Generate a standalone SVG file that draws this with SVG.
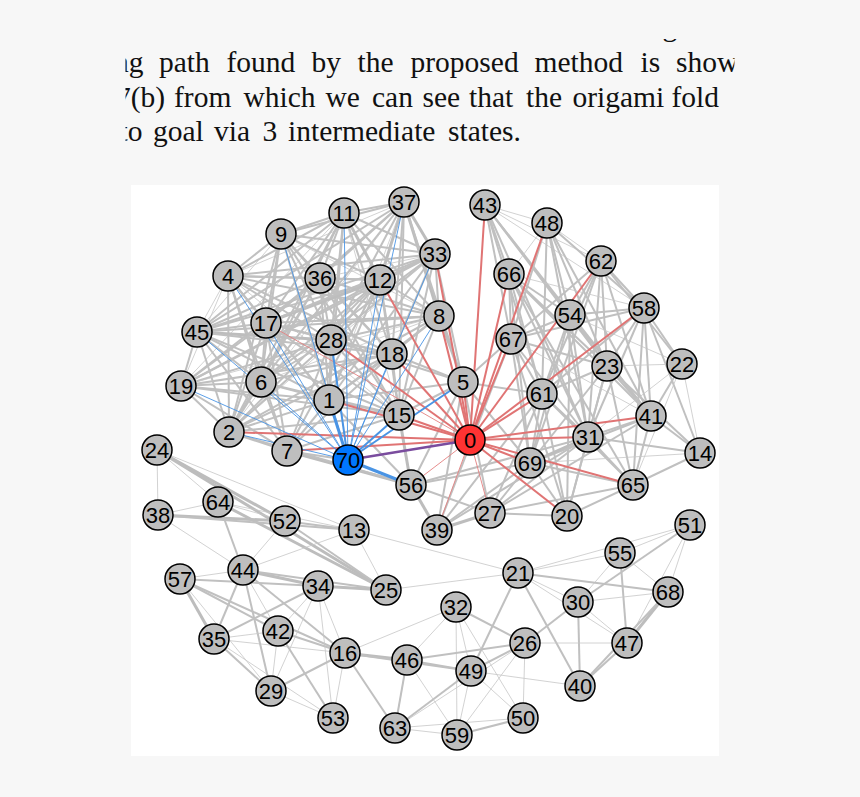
<svg xmlns="http://www.w3.org/2000/svg" width="860" height="797" viewBox="0 0 860 797">
<style>
.para{font-family:"Liberation Serif","Times New Roman",serif;font-size:29.5px;fill:#111}
.e1{stroke:#c6c6c6;stroke-width:0.8}
.e2{stroke:#c0c0c0;stroke-width:2}
.e3{stroke:#bdbdbd;stroke-width:3}
.r1{stroke:#e38080;stroke-width:0.9}
.r2{stroke:#e07474;stroke-width:2}
.b1{stroke:#4a94e4;stroke-width:0.9}
.b2{stroke:#4a94e4;stroke-width:2}
.b3{stroke:#4a94e4;stroke-width:3}
.pp{stroke:#7a4c9e;stroke-width:2.5}
.nd circle{fill:#bebebe;stroke:#000;stroke-width:1.5}
.nd text{font-family:"Liberation Sans",Arial,sans-serif;font-size:22px;fill:#000;text-anchor:middle}
</style>
<defs>
<clipPath id="txtclip"><rect x="125.5" y="0" width="609" height="160"/></clipPath>
<clipPath id="topclip"><rect x="600" y="39" width="100" height="10"/></clipPath>
</defs>
<rect x="0" y="0" width="860" height="797" fill="#f7f7f7"/>
<g id="paragraph" class="para">
<text x="662.5" y="35.5" clip-path="url(#topclip)">g</text>
<g clip-path="url(#txtclip)">
<text y="72"><tspan x="114">ng</tspan><tspan x="159">path</tspan><tspan x="226.5">found</tspan><tspan x="311.5">by</tspan><tspan x="357.5">the</tspan><tspan x="410.5">proposed</tspan><tspan x="534.5">method</tspan><tspan x="640.5">is</tspan><tspan x="676">shown</tspan></text>
<text y="106.5"><tspan x="116">7(b)</tspan><tspan x="174">from</tspan><tspan x="243.5">which</tspan><tspan x="325.5">we</tspan><tspan x="372">can</tspan><tspan x="422.5">see</tspan><tspan x="469">that</tspan><tspan x="526">the</tspan><tspan x="572.5">origami</tspan><tspan x="671.5">fold</tspan></text>
<text y="141"><tspan x="119.5">to</tspan><tspan x="153">goal</tspan><tspan x="214">via</tspan><tspan x="262.5">3</tspan><tspan x="288">intermediate</tspan><tspan x="448">states.</tspan></text>
</g>
</g>
<rect x="131" y="185" width="588" height="571" fill="#ffffff"/>
<g id="connectors">
<line x1="404" y1="202" x2="344" y2="213" class="e2"/>
<line x1="404" y1="202" x2="281" y2="234" class="e2"/>
<line x1="404" y1="202" x2="228" y2="276" class="e1"/>
<line x1="404" y1="202" x2="197" y2="332" class="e2"/>
<line x1="404" y1="202" x2="320" y2="278" class="e2"/>
<line x1="404" y1="202" x2="380" y2="280" class="e3"/>
<line x1="404" y1="202" x2="435" y2="254" class="e3"/>
<line x1="404" y1="202" x2="266" y2="323" class="e2"/>
<line x1="404" y1="202" x2="331" y2="340" class="e2"/>
<line x1="404" y1="202" x2="392" y2="354" class="e2"/>
<line x1="404" y1="202" x2="439" y2="316" class="e3"/>
<line x1="404" y1="202" x2="329" y2="400" class="e1"/>
<line x1="404" y1="202" x2="261" y2="382" class="e2"/>
<line x1="404" y1="202" x2="399" y2="415" class="e2"/>
<line x1="404" y1="202" x2="463" y2="382" class="e2"/>
<line x1="404" y1="202" x2="229" y2="432" class="e1"/>
<line x1="344" y1="213" x2="281" y2="234" class="e2"/>
<line x1="344" y1="213" x2="228" y2="276" class="e2"/>
<line x1="344" y1="213" x2="197" y2="332" class="e2"/>
<line x1="344" y1="213" x2="320" y2="278" class="e2"/>
<line x1="344" y1="213" x2="380" y2="280" class="e3"/>
<line x1="344" y1="213" x2="435" y2="254" class="e2"/>
<line x1="344" y1="213" x2="266" y2="323" class="e2"/>
<line x1="344" y1="213" x2="331" y2="340" class="e2"/>
<line x1="344" y1="213" x2="392" y2="354" class="e2"/>
<line x1="344" y1="213" x2="439" y2="316" class="e2"/>
<line x1="344" y1="213" x2="261" y2="382" class="e2"/>
<line x1="344" y1="213" x2="329" y2="400" class="e2"/>
<line x1="344" y1="213" x2="399" y2="415" class="e1"/>
<line x1="344" y1="213" x2="229" y2="432" class="e2"/>
<line x1="344" y1="213" x2="181" y2="386" class="e1"/>
<line x1="281" y1="234" x2="228" y2="276" class="e2"/>
<line x1="281" y1="234" x2="320" y2="278" class="e2"/>
<line x1="281" y1="234" x2="380" y2="280" class="e2"/>
<line x1="281" y1="234" x2="435" y2="254" class="e2"/>
<line x1="281" y1="234" x2="266" y2="323" class="e2"/>
<line x1="281" y1="234" x2="331" y2="340" class="e2"/>
<line x1="281" y1="234" x2="261" y2="382" class="e2"/>
<line x1="281" y1="234" x2="329" y2="400" class="e2"/>
<line x1="281" y1="234" x2="392" y2="354" class="e2"/>
<line x1="281" y1="234" x2="439" y2="316" class="e1"/>
<line x1="281" y1="234" x2="197" y2="332" class="e1"/>
<line x1="281" y1="234" x2="229" y2="432" class="e2"/>
<line x1="281" y1="234" x2="399" y2="415" class="e2"/>
<line x1="228" y1="276" x2="197" y2="332" class="e1"/>
<line x1="228" y1="276" x2="181" y2="386" class="e1"/>
<line x1="228" y1="276" x2="320" y2="278" class="e2"/>
<line x1="228" y1="276" x2="380" y2="280" class="e2"/>
<line x1="228" y1="276" x2="266" y2="323" class="e2"/>
<line x1="228" y1="276" x2="331" y2="340" class="e2"/>
<line x1="228" y1="276" x2="261" y2="382" class="e2"/>
<line x1="228" y1="276" x2="329" y2="400" class="e2"/>
<line x1="228" y1="276" x2="392" y2="354" class="e2"/>
<line x1="228" y1="276" x2="435" y2="254" class="e2"/>
<line x1="228" y1="276" x2="439" y2="316" class="e2"/>
<line x1="228" y1="276" x2="229" y2="432" class="e2"/>
<line x1="228" y1="276" x2="287" y2="451" class="e2"/>
<line x1="228" y1="276" x2="399" y2="415" class="e1"/>
<line x1="320" y1="278" x2="197" y2="332" class="e2"/>
<line x1="320" y1="278" x2="266" y2="323" class="e2"/>
<line x1="320" y1="278" x2="380" y2="280" class="e2"/>
<line x1="320" y1="278" x2="435" y2="254" class="e1"/>
<line x1="320" y1="278" x2="331" y2="340" class="e2"/>
<line x1="320" y1="278" x2="392" y2="354" class="e2"/>
<line x1="320" y1="278" x2="439" y2="316" class="e2"/>
<line x1="320" y1="278" x2="261" y2="382" class="e2"/>
<line x1="320" y1="278" x2="329" y2="400" class="e2"/>
<line x1="320" y1="278" x2="399" y2="415" class="e2"/>
<line x1="320" y1="278" x2="181" y2="386" class="e2"/>
<line x1="320" y1="278" x2="229" y2="432" class="e2"/>
<line x1="380" y1="280" x2="197" y2="332" class="e2"/>
<line x1="380" y1="280" x2="266" y2="323" class="e3"/>
<line x1="380" y1="280" x2="435" y2="254" class="e2"/>
<line x1="380" y1="280" x2="331" y2="340" class="e2"/>
<line x1="380" y1="280" x2="392" y2="354" class="e2"/>
<line x1="380" y1="280" x2="439" y2="316" class="e2"/>
<line x1="380" y1="280" x2="261" y2="382" class="e2"/>
<line x1="380" y1="280" x2="329" y2="400" class="e2"/>
<line x1="380" y1="280" x2="399" y2="415" class="e2"/>
<line x1="380" y1="280" x2="181" y2="386" class="e2"/>
<line x1="380" y1="280" x2="229" y2="432" class="e2"/>
<line x1="380" y1="280" x2="287" y2="451" class="e2"/>
<line x1="435" y1="254" x2="197" y2="332" class="e2"/>
<line x1="435" y1="254" x2="266" y2="323" class="e2"/>
<line x1="435" y1="254" x2="331" y2="340" class="e2"/>
<line x1="435" y1="254" x2="439" y2="316" class="e2"/>
<line x1="435" y1="254" x2="392" y2="354" class="e2"/>
<line x1="435" y1="254" x2="261" y2="382" class="e2"/>
<line x1="435" y1="254" x2="329" y2="400" class="e2"/>
<line x1="435" y1="254" x2="399" y2="415" class="e2"/>
<line x1="435" y1="254" x2="463" y2="382" class="e2"/>
<line x1="435" y1="254" x2="181" y2="386" class="e2"/>
<line x1="435" y1="254" x2="229" y2="432" class="e1"/>
<line x1="197" y1="332" x2="181" y2="386" class="e2"/>
<line x1="197" y1="332" x2="266" y2="323" class="e2"/>
<line x1="197" y1="332" x2="331" y2="340" class="e3"/>
<line x1="197" y1="332" x2="439" y2="316" class="e2"/>
<line x1="197" y1="332" x2="392" y2="354" class="e2"/>
<line x1="197" y1="332" x2="261" y2="382" class="e2"/>
<line x1="197" y1="332" x2="329" y2="400" class="e2"/>
<line x1="197" y1="332" x2="399" y2="415" class="e2"/>
<line x1="197" y1="332" x2="229" y2="432" class="e2"/>
<line x1="197" y1="332" x2="287" y2="451" class="e2"/>
<line x1="266" y1="323" x2="331" y2="340" class="e2"/>
<line x1="266" y1="323" x2="439" y2="316" class="e2"/>
<line x1="266" y1="323" x2="392" y2="354" class="e2"/>
<line x1="266" y1="323" x2="261" y2="382" class="e2"/>
<line x1="266" y1="323" x2="329" y2="400" class="e2"/>
<line x1="266" y1="323" x2="399" y2="415" class="e2"/>
<line x1="266" y1="323" x2="181" y2="386" class="e2"/>
<line x1="266" y1="323" x2="229" y2="432" class="e2"/>
<line x1="266" y1="323" x2="287" y2="451" class="e2"/>
<line x1="331" y1="340" x2="439" y2="316" class="e2"/>
<line x1="331" y1="340" x2="392" y2="354" class="e2"/>
<line x1="331" y1="340" x2="261" y2="382" class="e2"/>
<line x1="331" y1="340" x2="329" y2="400" class="e2"/>
<line x1="331" y1="340" x2="399" y2="415" class="e2"/>
<line x1="331" y1="340" x2="181" y2="386" class="e2"/>
<line x1="331" y1="340" x2="229" y2="432" class="e2"/>
<line x1="331" y1="340" x2="287" y2="451" class="e2"/>
<line x1="331" y1="340" x2="463" y2="382" class="e2"/>
<line x1="439" y1="316" x2="392" y2="354" class="e2"/>
<line x1="439" y1="316" x2="261" y2="382" class="e1"/>
<line x1="439" y1="316" x2="329" y2="400" class="e2"/>
<line x1="439" y1="316" x2="399" y2="415" class="e2"/>
<line x1="439" y1="316" x2="463" y2="382" class="e3"/>
<line x1="439" y1="316" x2="181" y2="386" class="e1"/>
<line x1="439" y1="316" x2="229" y2="432" class="e2"/>
<line x1="392" y1="354" x2="261" y2="382" class="e2"/>
<line x1="392" y1="354" x2="329" y2="400" class="e2"/>
<line x1="392" y1="354" x2="399" y2="415" class="e2"/>
<line x1="392" y1="354" x2="463" y2="382" class="e2"/>
<line x1="392" y1="354" x2="181" y2="386" class="e2"/>
<line x1="392" y1="354" x2="229" y2="432" class="e2"/>
<line x1="392" y1="354" x2="287" y2="451" class="e2"/>
<line x1="181" y1="386" x2="261" y2="382" class="e2"/>
<line x1="181" y1="386" x2="329" y2="400" class="e2"/>
<line x1="181" y1="386" x2="229" y2="432" class="e2"/>
<line x1="181" y1="386" x2="287" y2="451" class="e2"/>
<line x1="181" y1="386" x2="399" y2="415" class="e2"/>
<line x1="261" y1="382" x2="329" y2="400" class="e2"/>
<line x1="261" y1="382" x2="399" y2="415" class="e2"/>
<line x1="261" y1="382" x2="229" y2="432" class="e2"/>
<line x1="261" y1="382" x2="287" y2="451" class="e2"/>
<line x1="329" y1="400" x2="399" y2="415" class="e2"/>
<line x1="329" y1="400" x2="229" y2="432" class="e2"/>
<line x1="329" y1="400" x2="287" y2="451" class="e2"/>
<line x1="329" y1="400" x2="463" y2="382" class="e2"/>
<line x1="399" y1="415" x2="463" y2="382" class="e2"/>
<line x1="399" y1="415" x2="229" y2="432" class="e2"/>
<line x1="399" y1="415" x2="287" y2="451" class="e2"/>
<line x1="229" y1="432" x2="287" y2="451" class="e2"/>
<line x1="287" y1="451" x2="411" y2="485" class="e3"/>
<line x1="229" y1="432" x2="411" y2="485" class="e2"/>
<line x1="399" y1="415" x2="411" y2="485" class="e3"/>
<line x1="329" y1="400" x2="411" y2="485" class="e2"/>
<line x1="411" y1="485" x2="463" y2="382" class="e2"/>
<line x1="348" y1="460" x2="287" y2="451" class="e2"/>
<line x1="485" y1="205" x2="547" y2="223" class="e1"/>
<line x1="485" y1="205" x2="601" y2="261" class="e1"/>
<line x1="485" y1="205" x2="509" y2="274" class="e2"/>
<line x1="485" y1="205" x2="570" y2="315" class="e2"/>
<line x1="485" y1="205" x2="511" y2="339" class="e2"/>
<line x1="485" y1="205" x2="542" y2="394" class="e2"/>
<line x1="485" y1="205" x2="607" y2="366" class="e2"/>
<line x1="485" y1="205" x2="588" y2="437" class="e2"/>
<line x1="485" y1="205" x2="651" y2="416" class="e2"/>
<line x1="485" y1="205" x2="644" y2="308" class="e1"/>
<line x1="547" y1="223" x2="601" y2="261" class="e1"/>
<line x1="547" y1="223" x2="509" y2="274" class="e1"/>
<line x1="547" y1="223" x2="570" y2="315" class="e2"/>
<line x1="547" y1="223" x2="511" y2="339" class="e2"/>
<line x1="547" y1="223" x2="607" y2="366" class="e2"/>
<line x1="547" y1="223" x2="542" y2="394" class="e2"/>
<line x1="547" y1="223" x2="588" y2="437" class="e2"/>
<line x1="547" y1="223" x2="651" y2="416" class="e2"/>
<line x1="547" y1="223" x2="644" y2="308" class="e2"/>
<line x1="601" y1="261" x2="570" y2="315" class="e2"/>
<line x1="601" y1="261" x2="644" y2="308" class="e2"/>
<line x1="601" y1="261" x2="607" y2="366" class="e2"/>
<line x1="601" y1="261" x2="542" y2="394" class="e2"/>
<line x1="601" y1="261" x2="651" y2="416" class="e2"/>
<line x1="601" y1="261" x2="511" y2="339" class="e2"/>
<line x1="601" y1="261" x2="682" y2="364" class="e2"/>
<line x1="601" y1="261" x2="588" y2="437" class="e2"/>
<line x1="601" y1="261" x2="530" y2="463" class="e2"/>
<line x1="509" y1="274" x2="570" y2="315" class="e2"/>
<line x1="509" y1="274" x2="511" y2="339" class="e2"/>
<line x1="509" y1="274" x2="542" y2="394" class="e2"/>
<line x1="509" y1="274" x2="607" y2="366" class="e2"/>
<line x1="509" y1="274" x2="588" y2="437" class="e2"/>
<line x1="509" y1="274" x2="530" y2="463" class="e2"/>
<line x1="509" y1="274" x2="651" y2="416" class="e2"/>
<line x1="509" y1="274" x2="633" y2="485" class="e2"/>
<line x1="509" y1="274" x2="644" y2="308" class="e1"/>
<line x1="570" y1="315" x2="644" y2="308" class="e2"/>
<line x1="570" y1="315" x2="511" y2="339" class="e2"/>
<line x1="570" y1="315" x2="607" y2="366" class="e2"/>
<line x1="570" y1="315" x2="542" y2="394" class="e2"/>
<line x1="570" y1="315" x2="588" y2="437" class="e2"/>
<line x1="570" y1="315" x2="530" y2="463" class="e2"/>
<line x1="570" y1="315" x2="651" y2="416" class="e2"/>
<line x1="570" y1="315" x2="567" y2="516" class="e2"/>
<line x1="570" y1="315" x2="682" y2="364" class="e1"/>
<line x1="644" y1="308" x2="607" y2="366" class="e2"/>
<line x1="644" y1="308" x2="682" y2="364" class="e2"/>
<line x1="644" y1="308" x2="651" y2="416" class="e2"/>
<line x1="644" y1="308" x2="588" y2="437" class="e2"/>
<line x1="644" y1="308" x2="700" y2="453" class="e2"/>
<line x1="644" y1="308" x2="511" y2="339" class="e2"/>
<line x1="644" y1="308" x2="542" y2="394" class="e2"/>
<line x1="644" y1="308" x2="633" y2="485" class="e2"/>
<line x1="511" y1="339" x2="542" y2="394" class="e2"/>
<line x1="511" y1="339" x2="463" y2="382" class="e2"/>
<line x1="511" y1="339" x2="530" y2="463" class="e2"/>
<line x1="511" y1="339" x2="607" y2="366" class="e2"/>
<line x1="511" y1="339" x2="588" y2="437" class="e2"/>
<line x1="511" y1="339" x2="437" y2="530" class="e2"/>
<line x1="511" y1="339" x2="651" y2="416" class="e1"/>
<line x1="511" y1="339" x2="567" y2="516" class="e2"/>
<line x1="607" y1="366" x2="682" y2="364" class="e1"/>
<line x1="607" y1="366" x2="651" y2="416" class="e2"/>
<line x1="607" y1="366" x2="588" y2="437" class="e2"/>
<line x1="607" y1="366" x2="700" y2="453" class="e2"/>
<line x1="607" y1="366" x2="633" y2="485" class="e2"/>
<line x1="607" y1="366" x2="530" y2="463" class="e2"/>
<line x1="607" y1="366" x2="567" y2="516" class="e2"/>
<line x1="607" y1="366" x2="542" y2="394" class="e2"/>
<line x1="682" y1="364" x2="651" y2="416" class="e2"/>
<line x1="682" y1="364" x2="700" y2="453" class="e1"/>
<line x1="682" y1="364" x2="588" y2="437" class="e1"/>
<line x1="682" y1="364" x2="633" y2="485" class="e1"/>
<line x1="542" y1="394" x2="588" y2="437" class="e2"/>
<line x1="542" y1="394" x2="530" y2="463" class="e2"/>
<line x1="542" y1="394" x2="567" y2="516" class="e2"/>
<line x1="542" y1="394" x2="490" y2="513" class="e2"/>
<line x1="542" y1="394" x2="437" y2="530" class="e2"/>
<line x1="542" y1="394" x2="463" y2="382" class="e2"/>
<line x1="542" y1="394" x2="633" y2="485" class="e2"/>
<line x1="651" y1="416" x2="588" y2="437" class="e2"/>
<line x1="651" y1="416" x2="700" y2="453" class="e2"/>
<line x1="651" y1="416" x2="633" y2="485" class="e2"/>
<line x1="651" y1="416" x2="530" y2="463" class="e2"/>
<line x1="651" y1="416" x2="490" y2="513" class="e2"/>
<line x1="588" y1="437" x2="530" y2="463" class="e3"/>
<line x1="588" y1="437" x2="700" y2="453" class="e2"/>
<line x1="588" y1="437" x2="633" y2="485" class="e2"/>
<line x1="588" y1="437" x2="567" y2="516" class="e2"/>
<line x1="588" y1="437" x2="490" y2="513" class="e2"/>
<line x1="588" y1="437" x2="437" y2="530" class="e2"/>
<line x1="530" y1="463" x2="633" y2="485" class="e2"/>
<line x1="530" y1="463" x2="567" y2="516" class="e2"/>
<line x1="530" y1="463" x2="490" y2="513" class="e2"/>
<line x1="530" y1="463" x2="437" y2="530" class="e2"/>
<line x1="530" y1="463" x2="411" y2="485" class="e2"/>
<line x1="530" y1="463" x2="700" y2="453" class="e1"/>
<line x1="700" y1="453" x2="633" y2="485" class="e2"/>
<line x1="633" y1="485" x2="567" y2="516" class="e2"/>
<line x1="633" y1="485" x2="490" y2="513" class="e2"/>
<line x1="567" y1="516" x2="490" y2="513" class="e2"/>
<line x1="490" y1="513" x2="437" y2="530" class="e3"/>
<line x1="490" y1="513" x2="411" y2="485" class="e2"/>
<line x1="490" y1="513" x2="463" y2="382" class="e2"/>
<line x1="437" y1="530" x2="411" y2="485" class="e3"/>
<line x1="437" y1="530" x2="463" y2="382" class="e2"/>
<line x1="463" y1="382" x2="530" y2="463" class="e2"/>
<line x1="411" y1="485" x2="588" y2="437" class="e2"/>
<line x1="157" y1="450" x2="158" y2="515" class="e1"/>
<line x1="157" y1="450" x2="218" y2="502" class="e1"/>
<line x1="157" y1="450" x2="285" y2="521" class="e3"/>
<line x1="157" y1="450" x2="354" y2="530" class="e1"/>
<line x1="157" y1="450" x2="386" y2="590" class="e3"/>
<line x1="218" y1="502" x2="158" y2="515" class="e1"/>
<line x1="218" y1="502" x2="285" y2="521" class="e1"/>
<line x1="218" y1="502" x2="243" y2="570" class="e2"/>
<line x1="218" y1="502" x2="386" y2="590" class="e3"/>
<line x1="218" y1="502" x2="354" y2="530" class="e1"/>
<line x1="158" y1="515" x2="285" y2="521" class="e3"/>
<line x1="158" y1="515" x2="354" y2="530" class="e2"/>
<line x1="158" y1="515" x2="243" y2="570" class="e1"/>
<line x1="285" y1="521" x2="354" y2="530" class="e2"/>
<line x1="285" y1="521" x2="386" y2="590" class="e2"/>
<line x1="285" y1="521" x2="243" y2="570" class="e1"/>
<line x1="354" y1="530" x2="243" y2="570" class="e1"/>
<line x1="354" y1="530" x2="386" y2="590" class="e1"/>
<line x1="354" y1="530" x2="518" y2="573" class="e1"/>
<line x1="386" y1="590" x2="518" y2="573" class="e1"/>
<line x1="243" y1="570" x2="180" y2="579" class="e1"/>
<line x1="243" y1="570" x2="318" y2="586" class="e3"/>
<line x1="243" y1="570" x2="214" y2="639" class="e2"/>
<line x1="243" y1="570" x2="271" y2="691" class="e2"/>
<line x1="243" y1="570" x2="278" y2="631" class="e1"/>
<line x1="243" y1="570" x2="345" y2="653" class="e2"/>
<line x1="243" y1="570" x2="386" y2="590" class="e2"/>
<line x1="180" y1="579" x2="318" y2="586" class="e2"/>
<line x1="180" y1="579" x2="214" y2="639" class="e3"/>
<line x1="180" y1="579" x2="278" y2="631" class="e2"/>
<line x1="180" y1="579" x2="271" y2="691" class="e1"/>
<line x1="180" y1="579" x2="345" y2="653" class="e2"/>
<line x1="318" y1="586" x2="386" y2="590" class="e3"/>
<line x1="318" y1="586" x2="214" y2="639" class="e2"/>
<line x1="318" y1="586" x2="278" y2="631" class="e1"/>
<line x1="318" y1="586" x2="345" y2="653" class="e1"/>
<line x1="318" y1="586" x2="333" y2="718" class="e1"/>
<line x1="318" y1="586" x2="271" y2="691" class="e1"/>
<line x1="214" y1="639" x2="278" y2="631" class="e1"/>
<line x1="214" y1="639" x2="345" y2="653" class="e1"/>
<line x1="214" y1="639" x2="271" y2="691" class="e2"/>
<line x1="214" y1="639" x2="333" y2="718" class="e1"/>
<line x1="278" y1="631" x2="345" y2="653" class="e2"/>
<line x1="278" y1="631" x2="333" y2="718" class="e2"/>
<line x1="278" y1="631" x2="271" y2="691" class="e1"/>
<line x1="271" y1="691" x2="345" y2="653" class="e2"/>
<line x1="271" y1="691" x2="333" y2="718" class="e1"/>
<line x1="345" y1="653" x2="333" y2="718" class="e1"/>
<line x1="345" y1="653" x2="407" y2="660" class="e3"/>
<line x1="345" y1="653" x2="395" y2="728" class="e2"/>
<line x1="345" y1="653" x2="471" y2="671" class="e2"/>
<line x1="345" y1="653" x2="456" y2="607" class="e1"/>
<line x1="690" y1="525" x2="620" y2="553" class="e1"/>
<line x1="690" y1="525" x2="518" y2="573" class="e1"/>
<line x1="690" y1="525" x2="578" y2="602" class="e2"/>
<line x1="690" y1="525" x2="668" y2="592" class="e1"/>
<line x1="690" y1="525" x2="627" y2="643" class="e1"/>
<line x1="620" y1="553" x2="518" y2="573" class="e1"/>
<line x1="620" y1="553" x2="578" y2="602" class="e1"/>
<line x1="620" y1="553" x2="627" y2="643" class="e2"/>
<line x1="620" y1="553" x2="668" y2="592" class="e1"/>
<line x1="518" y1="573" x2="668" y2="592" class="e2"/>
<line x1="518" y1="573" x2="578" y2="602" class="e1"/>
<line x1="518" y1="573" x2="580" y2="686" class="e2"/>
<line x1="518" y1="573" x2="471" y2="671" class="e2"/>
<line x1="518" y1="573" x2="627" y2="643" class="e1"/>
<line x1="578" y1="602" x2="668" y2="592" class="e1"/>
<line x1="578" y1="602" x2="525" y2="643" class="e2"/>
<line x1="578" y1="602" x2="580" y2="686" class="e2"/>
<line x1="578" y1="602" x2="627" y2="643" class="e1"/>
<line x1="668" y1="592" x2="627" y2="643" class="e3"/>
<line x1="668" y1="592" x2="580" y2="686" class="e2"/>
<line x1="456" y1="607" x2="525" y2="643" class="e2"/>
<line x1="456" y1="607" x2="471" y2="671" class="e1"/>
<line x1="456" y1="607" x2="457" y2="735" class="e1"/>
<line x1="456" y1="607" x2="523" y2="718" class="e1"/>
<line x1="456" y1="607" x2="407" y2="660" class="e1"/>
<line x1="525" y1="643" x2="471" y2="671" class="e2"/>
<line x1="525" y1="643" x2="407" y2="660" class="e2"/>
<line x1="525" y1="643" x2="523" y2="718" class="e1"/>
<line x1="525" y1="643" x2="457" y2="735" class="e1"/>
<line x1="525" y1="643" x2="627" y2="643" class="e1"/>
<line x1="525" y1="643" x2="395" y2="728" class="e1"/>
<line x1="471" y1="671" x2="407" y2="660" class="e2"/>
<line x1="471" y1="671" x2="580" y2="686" class="e1"/>
<line x1="471" y1="671" x2="457" y2="735" class="e1"/>
<line x1="471" y1="671" x2="523" y2="718" class="e1"/>
<line x1="471" y1="671" x2="395" y2="728" class="e2"/>
<line x1="457" y1="735" x2="523" y2="718" class="e2"/>
<line x1="457" y1="735" x2="395" y2="728" class="e1"/>
<line x1="407" y1="660" x2="395" y2="728" class="e2"/>
<line x1="407" y1="660" x2="457" y2="735" class="e1"/>
<line x1="395" y1="728" x2="523" y2="718" class="e1"/>
<line x1="580" y1="686" x2="627" y2="643" class="e2"/>
<line x1="470" y1="440" x2="485" y2="205" class="r2"/>
<line x1="470" y1="440" x2="435" y2="254" class="r2"/>
<line x1="470" y1="440" x2="439" y2="316" class="r2"/>
<line x1="470" y1="440" x2="380" y2="280" class="r2"/>
<line x1="470" y1="440" x2="392" y2="354" class="r2"/>
<line x1="470" y1="440" x2="331" y2="340" class="r2"/>
<line x1="470" y1="440" x2="266" y2="323" class="r1"/>
<line x1="470" y1="440" x2="329" y2="400" class="r2"/>
<line x1="470" y1="440" x2="229" y2="432" class="r2"/>
<line x1="470" y1="440" x2="287" y2="451" class="r2"/>
<line x1="470" y1="440" x2="399" y2="415" class="r2"/>
<line x1="470" y1="440" x2="463" y2="382" class="r2"/>
<line x1="470" y1="440" x2="509" y2="274" class="r2"/>
<line x1="470" y1="440" x2="547" y2="223" class="r2"/>
<line x1="470" y1="440" x2="601" y2="261" class="r2"/>
<line x1="470" y1="440" x2="644" y2="308" class="r2"/>
<line x1="470" y1="440" x2="511" y2="339" class="r2"/>
<line x1="470" y1="440" x2="542" y2="394" class="r2"/>
<line x1="470" y1="440" x2="651" y2="416" class="r2"/>
<line x1="470" y1="440" x2="588" y2="437" class="r2"/>
<line x1="470" y1="440" x2="633" y2="485" class="r2"/>
<line x1="470" y1="440" x2="567" y2="516" class="r2"/>
<line x1="470" y1="440" x2="530" y2="463" class="r2"/>
<line x1="470" y1="440" x2="490" y2="513" class="r1"/>
<line x1="470" y1="440" x2="411" y2="485" class="r1"/>
<line x1="470" y1="440" x2="437" y2="530" class="r1"/>
<line x1="348" y1="460" x2="281" y2="234" class="b1"/>
<line x1="348" y1="460" x2="344" y2="213" class="b1"/>
<line x1="348" y1="460" x2="404" y2="202" class="b1"/>
<line x1="348" y1="460" x2="228" y2="276" class="b1"/>
<line x1="348" y1="460" x2="197" y2="332" class="b1"/>
<line x1="348" y1="460" x2="380" y2="280" class="b1"/>
<line x1="348" y1="460" x2="435" y2="254" class="b1"/>
<line x1="348" y1="460" x2="439" y2="316" class="b1"/>
<line x1="348" y1="460" x2="266" y2="323" class="b1"/>
<line x1="348" y1="460" x2="331" y2="340" class="b2"/>
<line x1="348" y1="460" x2="329" y2="400" class="b3"/>
<line x1="348" y1="460" x2="392" y2="354" class="b1"/>
<line x1="348" y1="460" x2="399" y2="415" class="b2"/>
<line x1="348" y1="460" x2="463" y2="382" class="b2"/>
<line x1="348" y1="460" x2="411" y2="485" class="b3"/>
<line x1="348" y1="460" x2="261" y2="382" class="b1"/>
<line x1="348" y1="460" x2="181" y2="386" class="b1"/>
<line x1="348" y1="460" x2="229" y2="432" class="b1"/>
<line x1="348" y1="460" x2="470" y2="440" class="pp"/>
</g>
<g id="nodes" class="nd">
<g id="node0"><circle cx="470" cy="440" r="15" style="fill:#ff3333"/><text x="470" y="448">0</text></g>
<g id="node1"><circle cx="329" cy="400" r="15"/><text x="329" y="408">1</text></g>
<g id="node2"><circle cx="229" cy="432" r="15"/><text x="229" y="440">2</text></g>
<g id="node4"><circle cx="228" cy="276" r="15"/><text x="228" y="284">4</text></g>
<g id="node5"><circle cx="463" cy="382" r="15"/><text x="463" y="390">5</text></g>
<g id="node6"><circle cx="261" cy="382" r="15"/><text x="261" y="390">6</text></g>
<g id="node7"><circle cx="287" cy="451" r="15"/><text x="287" y="459">7</text></g>
<g id="node8"><circle cx="439" cy="316" r="15"/><text x="439" y="324">8</text></g>
<g id="node9"><circle cx="281" cy="234" r="15"/><text x="281" y="242">9</text></g>
<g id="node11"><circle cx="344" cy="213" r="15"/><text x="344" y="221">11</text></g>
<g id="node12"><circle cx="380" cy="280" r="15"/><text x="380" y="288">12</text></g>
<g id="node13"><circle cx="354" cy="530" r="15"/><text x="354" y="538">13</text></g>
<g id="node14"><circle cx="700" cy="453" r="15"/><text x="700" y="461">14</text></g>
<g id="node15"><circle cx="399" cy="415" r="15"/><text x="399" y="423">15</text></g>
<g id="node16"><circle cx="345" cy="653" r="15"/><text x="345" y="661">16</text></g>
<g id="node17"><circle cx="266" cy="323" r="15"/><text x="266" y="331">17</text></g>
<g id="node18"><circle cx="392" cy="354" r="15"/><text x="392" y="362">18</text></g>
<g id="node19"><circle cx="181" cy="386" r="15"/><text x="181" y="394">19</text></g>
<g id="node20"><circle cx="567" cy="516" r="15"/><text x="567" y="524">20</text></g>
<g id="node21"><circle cx="518" cy="573" r="15"/><text x="518" y="581">21</text></g>
<g id="node22"><circle cx="682" cy="364" r="15"/><text x="682" y="372">22</text></g>
<g id="node23"><circle cx="607" cy="366" r="15"/><text x="607" y="374">23</text></g>
<g id="node24"><circle cx="157" cy="450" r="15"/><text x="157" y="458">24</text></g>
<g id="node25"><circle cx="386" cy="590" r="15"/><text x="386" y="598">25</text></g>
<g id="node26"><circle cx="525" cy="643" r="15"/><text x="525" y="651">26</text></g>
<g id="node27"><circle cx="490" cy="513" r="15"/><text x="490" y="521">27</text></g>
<g id="node28"><circle cx="331" cy="340" r="15"/><text x="331" y="348">28</text></g>
<g id="node29"><circle cx="271" cy="691" r="15"/><text x="271" y="699">29</text></g>
<g id="node30"><circle cx="578" cy="602" r="15"/><text x="578" y="610">30</text></g>
<g id="node31"><circle cx="588" cy="437" r="15"/><text x="588" y="445">31</text></g>
<g id="node32"><circle cx="456" cy="607" r="15"/><text x="456" y="615">32</text></g>
<g id="node33"><circle cx="435" cy="254" r="15"/><text x="435" y="262">33</text></g>
<g id="node34"><circle cx="318" cy="586" r="15"/><text x="318" y="594">34</text></g>
<g id="node35"><circle cx="214" cy="639" r="15"/><text x="214" y="647">35</text></g>
<g id="node36"><circle cx="320" cy="278" r="15"/><text x="320" y="286">36</text></g>
<g id="node37"><circle cx="404" cy="202" r="15"/><text x="404" y="210">37</text></g>
<g id="node38"><circle cx="158" cy="515" r="15"/><text x="158" y="523">38</text></g>
<g id="node39"><circle cx="437" cy="530" r="15"/><text x="437" y="538">39</text></g>
<g id="node40"><circle cx="580" cy="686" r="15"/><text x="580" y="694">40</text></g>
<g id="node41"><circle cx="651" cy="416" r="15"/><text x="651" y="424">41</text></g>
<g id="node42"><circle cx="278" cy="631" r="15"/><text x="278" y="639">42</text></g>
<g id="node43"><circle cx="485" cy="205" r="15"/><text x="485" y="213">43</text></g>
<g id="node44"><circle cx="243" cy="570" r="15"/><text x="243" y="578">44</text></g>
<g id="node45"><circle cx="197" cy="332" r="15"/><text x="197" y="340">45</text></g>
<g id="node46"><circle cx="407" cy="660" r="15"/><text x="407" y="668">46</text></g>
<g id="node47"><circle cx="627" cy="643" r="15"/><text x="627" y="651">47</text></g>
<g id="node48"><circle cx="547" cy="223" r="15"/><text x="547" y="231">48</text></g>
<g id="node49"><circle cx="471" cy="671" r="15"/><text x="471" y="679">49</text></g>
<g id="node50"><circle cx="523" cy="718" r="15"/><text x="523" y="726">50</text></g>
<g id="node51"><circle cx="690" cy="525" r="15"/><text x="690" y="533">51</text></g>
<g id="node52"><circle cx="285" cy="521" r="15"/><text x="285" y="529">52</text></g>
<g id="node53"><circle cx="333" cy="718" r="15"/><text x="333" y="726">53</text></g>
<g id="node54"><circle cx="570" cy="315" r="15"/><text x="570" y="323">54</text></g>
<g id="node55"><circle cx="620" cy="553" r="15"/><text x="620" y="561">55</text></g>
<g id="node56"><circle cx="411" cy="485" r="15"/><text x="411" y="493">56</text></g>
<g id="node57"><circle cx="180" cy="579" r="15"/><text x="180" y="587">57</text></g>
<g id="node58"><circle cx="644" cy="308" r="15"/><text x="644" y="316">58</text></g>
<g id="node59"><circle cx="457" cy="735" r="15"/><text x="457" y="743">59</text></g>
<g id="node61"><circle cx="542" cy="394" r="15"/><text x="542" y="402">61</text></g>
<g id="node62"><circle cx="601" cy="261" r="15"/><text x="601" y="269">62</text></g>
<g id="node63"><circle cx="395" cy="728" r="15"/><text x="395" y="736">63</text></g>
<g id="node64"><circle cx="218" cy="502" r="15"/><text x="218" y="510">64</text></g>
<g id="node65"><circle cx="633" cy="485" r="15"/><text x="633" y="493">65</text></g>
<g id="node66"><circle cx="509" cy="274" r="15"/><text x="509" y="282">66</text></g>
<g id="node67"><circle cx="511" cy="339" r="15"/><text x="511" y="347">67</text></g>
<g id="node68"><circle cx="668" cy="592" r="15"/><text x="668" y="600">68</text></g>
<g id="node69"><circle cx="530" cy="463" r="15"/><text x="530" y="471">69</text></g>
<g id="node70"><circle cx="348" cy="460" r="15" style="fill:#0077ff"/><text x="348" y="468">70</text></g>
</g>
</svg>
